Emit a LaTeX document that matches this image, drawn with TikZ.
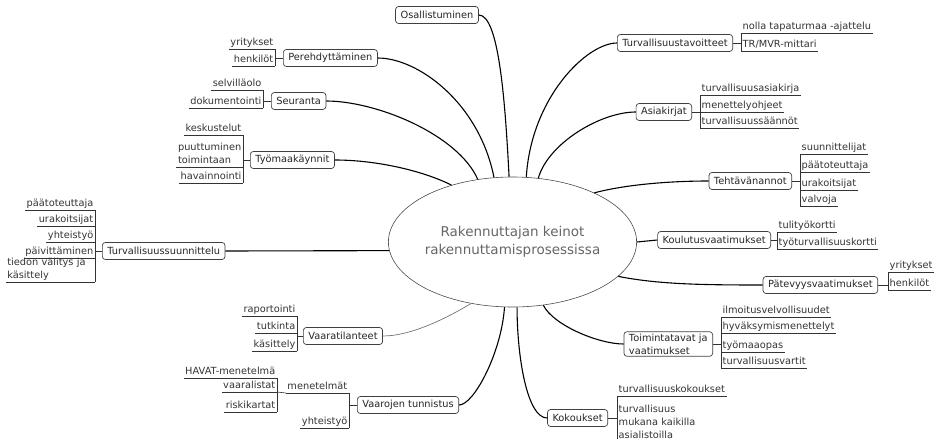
\documentclass[tikz,border=0pt]{standalone}
\usepackage{fontspec}
\setmainfont{DejaVu Sans}
\usetikzlibrary{shapes.geometric}
\newcommand\leaffont{\fontsize{9.8}{13}\selectfont}
\newcommand\hubfont{\fontsize{13.5}{17.5}\selectfont}

\begin{document}
\begin{tikzpicture}[x=1pt,y=1pt,
        hubnode/.style={ellipse,draw=black!70,line width=0.6pt,minimum width=201pt,minimum height=130pt,inner sep=0pt,align=center,text=black!60,font=\hubfont},
        topic/.style={draw=black!75,rounded corners=3pt,line width=0.7pt,fill=white,text=black!85,font=\leaffont,inner xsep=5pt,inner ysep=2pt,minimum height=17pt},
        link/.style={line width=1.1pt},
        uline/.style={draw=black!80,line width=0.6pt},
        leaf/.style={inner xsep=1.5pt,inner ysep=1pt,text=black!80,font=\leaffont,
                append after command={(\tikzlastnode.south west) edge[uline] (\tikzlastnode.south east)}},
        leafr/.style={leaf,anchor=south west,text depth=2.5pt},
        leafl/.style={leaf,anchor=south east,text depth=2.5pt}]
        \useasboundingbox (0,0) rectangle (940,-439);
        \node[hubnode] (hub) at (512.5,-242) {Rakennuttajan keinot\\rakennuttamisprosessissa};

        \node[topic] (osal) at (437,-15) {Osallistuminen};
        \node[topic,anchor=west] (pere) at (283,-58) {Perehdyttäminen};
        \node[topic,anchor=west] (seur) at (271,-101) {Seuranta};
        \node[topic,anchor=west] (tyom) at (250,-160) {Työmaakäynnit};
        \node[topic,anchor=west] (suun) at (102,-251) {Turvallisuussuunnittelu};
        \node[topic,anchor=west] (vtil) at (303,-336) {Vaaratilanteet};
        \node[topic,anchor=west] (vtun) at (357,-405) {Vaarojen tunnistus};
        \node[topic,anchor=east] (tavo) at (733,-43) {Turvallisuustavoitteet};
        \node[topic,anchor=east] (asia) at (692,-112) {Asiakirjat};
        \node[topic,anchor=east] (teht) at (792,-181) {Tehtävänannot};
        \node[topic,anchor=east] (koul) at (771,-240) {Koulutusvaatimukset};
        \node[topic,anchor=east] (pate) at (878,-285) {Pätevyysvaatimukset};
        \node[topic,anchor=east,align=left] (toim) at (713,-344) {Toimintatavat ja\\vaatimukset};
        \node[topic,anchor=east] (koko) at (608,-418) {Kokoukset};

        \draw[link] (osal.east) .. controls +(20,0) and +(-4,77) .. (hub.93);
        \draw[link] (pere.east) .. controls +(40,0) and +(-15,75) .. (hub.106);
        \draw[link] (seur.east) .. controls +(50,0) and +(-20,45) .. (hub.119);
        \draw[link] (tyom.east) .. controls +(40,0) and +(-30,15) .. (hub.137);
        \draw[link] (suun.east) -- (hub.184);
        \draw[link,black!55,line width=0.7pt] (vtil.east) .. controls +(30,0) and +(-20,-12) .. (hub.-124);
        \draw[link] (vtun.east) .. controls +(15,0) and +(-3,-45) .. (hub.-97);
        \draw[link] (tavo.west) .. controls +(-30,0) and +(5,80) .. (hub.78);
        \draw[link] (asia.west) .. controls +(-35,0) and +(10,35) .. (hub.68);
        \draw[link] (teht.west) .. controls +(-40,0) and +(30,8) .. (hub.31);
        \draw[link] (koul.west) -- (hub.0);
        \draw[link] (pate.west) .. controls +(-60,0) and +(40,-8) .. (hub.-18);
        \draw[link] (toim.west) .. controls +(-25,0) and +(10,-20) .. (hub.-64);
        \draw[link] (koko.west) .. controls +(-20,0) and +(0,-50) .. (hub.-86);

        \foreach \nm/\y/\txt in {tavo1/33/{nolla tapaturmaa -ajattelu},tavo2/51/{TR/MVR-mittari}}
                \node[leafr] (\nm) at (741,-\y) {\txt};
        \draw[uline] (tavo.east) -- (tavo.east -| tavo1.south west);
        \draw[uline] (tavo1.south west) -- (tavo2.south west);

        \foreach \nm/\y/\txt in {asia1/95/turvallisuusasiakirja,asia2/112/menettelyohjeet,asia3/128/turvallisuussäännöt}
                \node[leafr] (\nm) at (700,-\y) {\txt};
        \draw[uline] (asia.east) -- (asia.east -| asia1.south west);
        \draw[uline] (asia1.south west) -- (asia3.south west);

        \foreach \nm/\y/\txt in {teht1/154/suunnittelijat,teht2/172/päätoteuttaja,teht3/190/urakoitsijat,teht4/206/valvoja}
                \node[leafr] (\nm) at (800,-\y) {\txt};
        \draw[uline] (teht.east) -- (teht.east -| teht1.south west);
        \draw[uline] (teht1.south west) -- (teht4.south west);

        \foreach \nm/\y/\txt in {koul1/232/tulityökortti,koul2/249/työturvallisuuskortti}
                \node[leafr] (\nm) at (777,-\y) {\txt};
        \draw[uline] (koul.east) -- (koul.east -| koul1.south west);
        \draw[uline] (koul1.south west) -- (koul2.south west);

        \foreach \nm/\y/\txt in {pate1/272/yritykset,pate2/290/henkilöt}
                \node[leafr] (\nm) at (888,-\y) {\txt};
        \draw[uline] (pate.east) -- (pate.east -| pate1.south west);
        \draw[uline] (pate1.south west) -- (pate2.south west);

        \foreach \nm/\y/\txt in {toim1/317/ilmoitusvelvollisuudet,toim2/333/hyväksymismenettelyt,toim3/352/työmaaopas,toim4/368/turvallisuusvartit}
                \node[leafr] (\nm) at (721,-\y) {\txt};
        \draw[uline] (toim.east) -- (toim.east -| toim1.south west);
        \draw[uline] (toim1.south west) -- (toim4.south west);

        \node[leafr] (koko1) at (617,-396) {turvallisuuskokoukset};
        \node[leaf,anchor=south west,align=left] (koko2) at (617,-439.5) {turvallisuus\\mukana kaikilla\\asialistoilla};
        \draw[uline] (koko.east) -- (koko.east -| koko1.south west);
        \draw[uline] (koko1.south west) -- (koko2.south west);

        \foreach \nm/\y/\txt in {pere1/49/yritykset,pere2/66/henkilöt}
                \node[leafl] (\nm) at (275,-\y) {\txt};
        \draw[uline] (pere.west) -- (pere.west -| pere1.south east);
        \draw[uline] (pere1.south east) -- (pere2.south east);

        \foreach \nm/\y/\txt in {seur1/90/selvilläolo,seur2/108/dokumentointi}
                \node[leafl] (\nm) at (263,-\y) {\txt};
        \draw[uline] (seur.west) -- (seur.west -| seur1.south east);
        \draw[uline] (seur1.south east) -- (seur2.south east);

        \node[leafl] (tyom1) at (243,-135) {keskustelut};
        \node[leaf,anchor=south east,align=left] (tyom2) at (243,-167) {puuttuminen\\toimintaan\vphantom{y}};
        \node[leafl] (tyom3) at (243,-183) {havainnointi};
        \draw[uline] (tyom.west) -- (tyom.west -| tyom1.south east);
        \draw[uline] (tyom1.south east) -- (tyom3.south east);

        \foreach \nm/\y/\txt in {suun1/210/päätoteuttaja,suun2/226/urakoitsijat,suun3/242/yhteistyö,suun4/258/päivittäminen}
                \node[leafl] (\nm) at (95,-\y) {\txt};
        \node[leaf,anchor=south east,align=left,text width=86pt] (suun5) at (95,-282) {tiedon välitys ja\\käsittely};
        \draw[uline] (suun.west) -- (suun.west -| suun1.south east);
        \draw[uline] (suun1.south east) -- (suun5.south east);

        \foreach \nm/\y/\txt in {vtil1/316/raportointi,vtil2/333/tutkinta,vtil3/351/käsittely}
                \node[leafl] (\nm) at (297,-\y) {\txt};
        \draw[uline] (vtil.west) -- (vtil.west -| vtil1.south east);
        \draw[uline] (vtil1.south east) -- (vtil3.south east);

        \foreach \nm/\y/\txt in {vtun1/393/menetelmät,vtun2/428/yhteistyö}
                \node[leafl] (\nm) at (349,-\y) {\txt};
        \draw[uline] (vtun.west) -- (vtun.west -| vtun1.south east);
        \draw[uline] (vtun1.south east) -- (vtun2.south east);

        \foreach \nm/\y/\txt in {vtun11/378/HAVAT-menetelmä,vtun12/392/vaaralistat,vtun13/412/riskikartat}
                \node[leafl] (\nm) at (277,-\y) {\txt};
        \draw[uline] (vtun1.south west) -- (vtun12.south east);
        \draw[uline] (vtun11.south east) -- (vtun13.south east);
\end{tikzpicture}
\end{document}
